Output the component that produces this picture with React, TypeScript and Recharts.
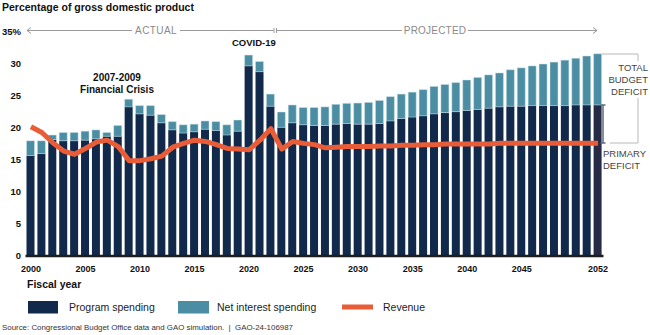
import { ComposedChart, Bar, Line, XAxis, YAxis, Cell } from 'recharts';

const years = [
  2000, 2001, 2002, 2003, 2004, 2005, 2006, 2007, 2008, 2009,
  2010, 2011, 2012, 2013, 2014, 2015, 2016, 2017, 2018, 2019,
  2020, 2021, 2022, 2023, 2024, 2025, 2026, 2027, 2028, 2029,
  2030, 2031, 2032, 2033, 2034, 2035, 2036, 2037, 2038, 2039,
  2040, 2041, 2042, 2043, 2044, 2045, 2046, 2047, 2048, 2049,
  2050, 2051, 2052,
];

// percent of GDP
const programSpending = [
  15.7, 16.0, 18.2, 18.0, 18.0, 18.1, 18.3, 18.7, 18.7, 23.3,
  22.2, 22.0, 20.8, 19.7, 19.2, 19.4, 19.8, 19.6, 18.9, 19.5,
  29.7, 28.8, 23.4, 20.1, 20.8, 20.5, 20.4, 20.4, 20.6, 20.7,
  20.6, 20.6, 20.7, 21.1, 21.5, 21.7, 21.9, 22.2, 22.4, 22.55,
  22.75, 22.9, 23.1, 23.3, 23.4, 23.4, 23.5, 23.5, 23.5, 23.5,
  23.6, 23.6, 23.6,
];

const netInterest = [
  2.3, 2.0, 0.7, 1.3, 1.3, 1.4, 1.4, 0.6, 1.7, 1.2,
  1.3, 1.5, 1.3, 1.3, 1.3, 1.2, 1.3, 1.4, 1.6, 1.75,
  1.7, 1.6, 1.9, 2.4, 2.8, 2.7, 2.8, 2.9, 3.1, 3.15,
  3.3, 3.4, 3.6, 3.8, 3.8, 3.9, 4.1, 4.3, 4.4, 4.55,
  4.75, 5.0, 5.2, 5.3, 5.7, 6.0, 6.2, 6.5, 6.8, 7.1,
  7.3, 7.65, 8.0,
];

const revenue = [
  20.2, 19.3, 17.7, 16.4, 15.9, 16.8, 17.8, 18.1, 17.1, 14.9,
  14.9, 15.2, 15.6, 17.0, 17.6, 18.1, 17.9, 17.4, 16.8, 16.7,
  16.6, 18.1, 19.9, 16.7, 17.9, 17.6, 17.4, 16.9, 17.0, 17.1,
  17.1, 17.1, 17.2, 17.2, 17.3, 17.3, 17.4, 17.4, 17.5, 17.5,
  17.5, 17.5, 17.5, 17.6, 17.6, 17.6, 17.6, 17.6, 17.6, 17.6,
  17.6, 17.6, 17.6,
];

const yTicks = [0, 5, 10, 15, 20, 25, 30, 35];
const xTicks = [2000, 2005, 2010, 2015, 2020, 2025, 2030, 2035, 2040, 2045, 2052];

const data = years.map((year, i) => ({
  year,
  program: programSpending[i],
  interest: netInterest[i],
  revenue: revenue[i],
}));

const FONT = '"Liberation Sans", Arial, Helvetica, sans-serif';
const NAVY = '#11294a';
const TEAL = '#4b8da2';
const ORANGE = '#e85d38';

export default function App() {
  return (
    <div style={{ position: 'absolute', left: 0, top: 0, width: 650, height: 335, background: '#fff', fontFamily: FONT }}>
      <ComposedChart
        width={650}
        height={335}
        data={data}
        margin={{ top: 32, right: 46.5, bottom: 49, left: 0 }}
        barSize={8}
      >
        <XAxis
          dataKey="year"
          ticks={xTicks}
          interval={0}
          height={30}
          tickLine={false}
          tickSize={0}
          tickMargin={10}
          axisLine={{ stroke: '#1d1d1d', strokeWidth: 2.5 }}
          tick={{ fill: '#111', fontSize: 9, fontWeight: 700, fontFamily: FONT }}
        />
        <YAxis
          domain={[0, 35]}
          ticks={yTicks}
          width={25.5}
          axisLine={false}
          tickLine={false}
          tickSize={0}
          tickMargin={4.5}
          tickFormatter={(v) => (v === 35 ? '35%' : String(v))}
          tick={{ fill: '#111', fontSize: 9.5, fontWeight: 700, fontFamily: FONT }}
        />
        <Bar dataKey="program" stackId="a" fill={NAVY} isAnimationActive={false}>
          {data.map((d) => (
            <Cell key={d.year} fill={d.year === 2052 ? '#272a45' : NAVY} />
          ))}
        </Bar>
        <Bar dataKey="interest" stackId="a" fill={TEAL} stroke="#cfe2e8" strokeWidth={0.5} isAnimationActive={false} />
        <Line
          type="linear"
          dataKey="revenue"
          stroke={ORANGE}
          strokeWidth={5}
          strokeLinejoin="round"
          dot={false}
          activeDot={false}
          isAnimationActive={false}
        />
      </ComposedChart>

      <svg
        width={650}
        height={335}
        style={{ position: 'absolute', left: 0, top: 0, pointerEvents: 'none', fontFamily: FONT }}
      >
        <text x={2} y={10.8} fontSize={10.5} fontWeight={700} fill="#111">
          Percentage of gross domestic product
        </text>

        {/* actual / projected arrow */}
        <g stroke="#9a9a9a" strokeWidth={1} fill="none">
          <line x1={27} y1={30.5} x2={132} y2={30.5} />
          <polyline points="31,27.5 27,30.5 31,33.5" />
          <line x1={180} y1={30.5} x2={273.5} y2={30.5} />
          <line x1={274} y1={28} x2={274} y2={33} />
          <line x1={276.5} y1={28} x2={276.5} y2={33} />
          <line x1={277} y1={30.5} x2={402} y2={30.5} />
          <line x1={468} y1={30.5} x2={597} y2={30.5} />
          <polyline points="593,27.5 597,30.5 593,33.5" />
        </g>
        <text x={156} y={34.2} fontSize={10} fill="#8a8a8a" textAnchor="middle" letterSpacing={0.4}>
          ACTUAL
        </text>
        <text x={435} y={34.2} fontSize={10} fill="#8a8a8a" textAnchor="middle" letterSpacing={0.2}>
          PROJECTED
        </text>

        <text x={232} y={46.4} fontSize={9.5} fontWeight={700} fill="#111">
          COVID-19
        </text>
        <text x={117} y={80.6} fontSize={10} fontWeight={700} fill="#111" textAnchor="middle">
          2007-2009
        </text>
        <text x={117} y={92.6} fontSize={10} fontWeight={700} fill="#111" textAnchor="middle">
          Financial Crisis
        </text>

        {/* total budget deficit bracket */}
        <g stroke="#b8b8b8" strokeWidth={1} fill="none">
          <polyline points="602,54 638,54 638,61" />
          <polyline points="638,98 638,143 610,143" />
        </g>
        <g fontSize={9.5} fill="#444" textAnchor="end">
          <text x={648} y={71.4}>TOTAL</text>
          <text x={648} y={83.4}>BUDGET</text>
          <text x={648} y={95.4}>DEFICIT</text>
        </g>

        {/* primary deficit marker */}
        <g stroke="#5b6b82" strokeWidth={1.5}>
          <line x1={603} y1={105} x2={603} y2={143} />
          <line x1={600.5} y1={105} x2={605.5} y2={105} />
          <line x1={600.5} y1={143} x2={605.5} y2={143} />
        </g>
        <g fontSize={9.5} fill="#444">
          <text x={603} y={157.4}>PRIMARY</text>
          <text x={603} y={169}>DEFICIT</text>
        </g>

        <text x={27} y={287.8} fontSize={10.5} fontWeight={700} fill="#111">
          Fiscal year
        </text>

        {/* legend */}
        <rect x={28} y={301} width={30} height={12.5} fill={NAVY} />
        <text x={69} y={310.8} fontSize={10.5} fill="#222">Program spending</text>
        <rect x={178} y={301} width={31} height={12.5} fill={TEAL} />
        <text x={217} y={310.8} fontSize={10.5} fill="#222">Net interest spending</text>
        <line x1={342} y1={307} x2={373} y2={307} stroke={ORANGE} strokeWidth={5} />
        <text x={383} y={310.8} fontSize={10.5} fill="#222">Revenue</text>

        <text x={2} y={330} fontSize={7.9} fill="#333" style={{ whiteSpace: 'pre' }}>
          {'Source: Congressional Budget Office data and GAO simulation.  |  GAO-24-106987'}
        </text>
      </svg>
    </div>
  );
}
